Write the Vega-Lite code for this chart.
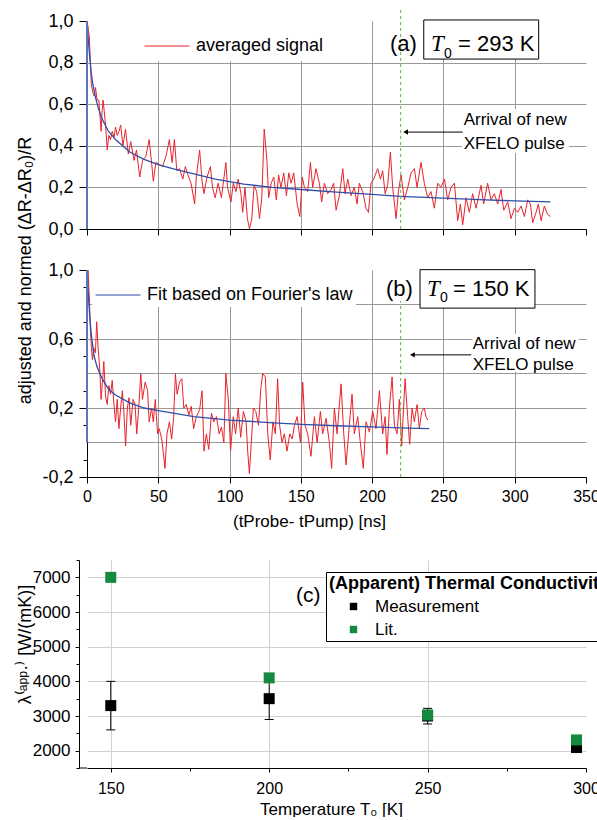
{
  "$schema": "https://vega.github.io/schema/vega-lite/v6.json",
  "padding": {"left": 15, "top": 7, "right": 0, "bottom": 0},
  "background": "white",
  "spacing": 41,
  "bounds": "flush",
  "resolve": {"scale": {"x": "independent", "y": "independent", "color": "independent"}, "axis": {"x": "independent", "y": "independent"}, "legend": {"color": "independent"}},
  "config": {
    "view": {"stroke": null},
    "font": "Liberation Sans",
    "locale": {"number": {"decimal": ",", "thousands": ".", "grouping": [3], "currency": ["", ""], "minus": "-"}},
    "axis": {"domainColor": "black", "tickColor": "black", "labelColor": "black", "titleColor": "black", "titleFontWeight": "normal", "labelFont": "Liberation Sans", "titleFont": "Liberation Sans", "labelFlush": false, "labelOverlap": false, "labelSeparation": -60, "labelBound": false, "domainWidth": 1, "tickWidth": 1, "gridColor": "#999999", "gridWidth": 1}
  },
  "datasets": {
    "sigA": [
      {"t":0,"v":0.70},{"t":0.5,"v":0.98},{"t":1,"v":0.95},{"t":1.6,"v":0.93},{"t":2.4,"v":0.80},{"t":3,"v":0.70},{"t":4,"v":0.66},{"t":5,"v":0.64},{"t":6,"v":0.68},{"t":7,"v":0.62},{"t":8.3,"v":0.62},{"t":9.9,"v":0.47},{"t":10.6,"v":0.57},{"t":11.3,"v":0.62},{"t":13,"v":0.50},{"t":14.2,"v":0.38},{"t":15.3,"v":0.45},{"t":16.5,"v":0.43},{"t":17.7,"v":0.47},{"t":19,"v":0.44},{"t":20,"v":0.49},{"t":21.2,"v":0.45},{"t":22.5,"v":0.47},{"t":23.6,"v":0.50},{"t":25.2,"v":0.40},{"t":27,"v":0.48},{"t":29,"v":0.36},{"t":30.7,"v":0.42},{"t":32,"v":0.37},{"t":33,"v":0.33},{"t":34.7,"v":0.38},{"t":37,"v":0.25},{"t":39,"v":0.33},{"t":41.3,"v":0.35},{"t":43.6,"v":0.43},{"t":45.3,"v":0.32},{"t":46.5,"v":0.23},{"t":48.3,"v":0.32},{"t":50.7,"v":0.31},{"t":53,"v":0.30},{"t":55.4,"v":0.35},{"t":57.8,"v":0.43},{"t":59.7,"v":0.32},{"t":61.3,"v":0.43},{"t":63,"v":0.28},{"t":64.9,"v":0.29},{"t":67.2,"v":0.24},{"t":69,"v":0.30},{"t":70.8,"v":0.26},{"t":73,"v":0.22},{"t":75.5,"v":0.12},{"t":76.7,"v":0.25},{"t":79,"v":0.38},{"t":80.7,"v":0.23},{"t":82,"v":0.17},{"t":84.2,"v":0.25},{"t":86.6,"v":0.30},{"t":88,"v":0.20},{"t":89.9,"v":0.15},{"t":92,"v":0.22},{"t":94.3,"v":0.15},{"t":97.4,"v":0.32},{"t":98.6,"v":0.20},{"t":101,"v":0.13},{"t":102.6,"v":0.22},{"t":104.5,"v":0.18},{"t":106,"v":0.24},{"t":108,"v":0.17},{"t":109.2,"v":0.08},{"t":110.8,"v":0.20},{"t":112.5,"v":0.05},{"t":114,"v":0.0},{"t":115.6,"v":0.05},{"t":117.2,"v":0.21},{"t":119,"v":0.18},{"t":121,"v":0.05},{"t":122.6,"v":0.15},{"t":124.3,"v":0.48},{"t":126.2,"v":0.33},{"t":127.4,"v":0.15},{"t":129.2,"v":0.22},{"t":131,"v":0.25},{"t":132.8,"v":0.14},{"t":134.4,"v":0.26},{"t":136,"v":0.20},{"t":138,"v":0.27},{"t":139.9,"v":0.16},{"t":141.5,"v":0.27},{"t":143.2,"v":0.22},{"t":145,"v":0.27},{"t":147.4,"v":0.12},{"t":149.3,"v":0.06},{"t":151,"v":0.25},{"t":152.5,"v":0.20},{"t":154.8,"v":0.18},{"t":156.7,"v":0.32},{"t":158.3,"v":0.20},{"t":160.6,"v":0.29},{"t":163,"v":0.22},{"t":164.6,"v":0.13},{"t":166.5,"v":0.22},{"t":168.8,"v":0.17},{"t":171.2,"v":0.19},{"t":173,"v":0.22},{"t":174.7,"v":0.09},{"t":177,"v":0.16},{"t":179.4,"v":0.29},{"t":181,"v":0.17},{"t":182.9,"v":0.24},{"t":185.2,"v":0.16},{"t":187.5,"v":0.20},{"t":189.4,"v":0.12},{"t":191,"v":0.22},{"t":193.4,"v":0.18},{"t":195.7,"v":0.10},{"t":197.4,"v":0.08},{"t":199.2,"v":0.22},{"t":201.1,"v":0.24},{"t":203.9,"v":0.29},{"t":205.8,"v":0.24},{"t":207.4,"v":0.28},{"t":209.1,"v":0.17},{"t":210.9,"v":0.21},{"t":212.8,"v":0.37},{"t":214.4,"v":0.20},{"t":216.8,"v":0.05},{"t":218.4,"v":0.18},{"t":220.3,"v":0.26},{"t":222.6,"v":0.14},{"t":225,"v":0.20},{"t":227.3,"v":0.27},{"t":229.6,"v":0.29},{"t":231.5,"v":0.20},{"t":234.3,"v":0.32},{"t":236.6,"v":0.22},{"t":239,"v":0.15},{"t":241.3,"v":0.18},{"t":243.6,"v":0.10},{"t":246,"v":0.22},{"t":248.3,"v":0.20},{"t":250.7,"v":0.24},{"t":253,"v":0.14},{"t":255.3,"v":0.20},{"t":257.7,"v":0.22},{"t":260,"v":0.04},{"t":261.9,"v":0.12},{"t":263.5,"v":0.02},{"t":265.9,"v":0.15},{"t":268.2,"v":0.08},{"t":270.5,"v":0.17},{"t":272.9,"v":0.10},{"t":276.4,"v":0.21},{"t":278.2,"v":0.12},{"t":281,"v":0.22},{"t":283.4,"v":0.14},{"t":285.7,"v":0.17},{"t":288.1,"v":0.12},{"t":290.4,"v":0.19},{"t":292.3,"v":0.09},{"t":295.1,"v":0.13},{"t":297.4,"v":0.05},{"t":299.8,"v":0.10},{"t":302.1,"v":0.08},{"t":304.5,"v":0.11},{"t":306.8,"v":0.06},{"t":309.1,"v":0.14},{"t":311,"v":0.12},{"t":312.6,"v":0.03},{"t":315,"v":0.08},{"t":316.6,"v":0.12},{"t":318.5,"v":0.04},{"t":320.8,"v":0.11},{"t":323.1,"v":0.07},{"t":325,"v":0.06}
    ],
    "fitA": [
      {"t":0.05,"v":1.0},{"t":1,"v":0.9},{"t":2,"v":0.82},{"t":3,"v":0.75},{"t":4,"v":0.70},{"t":6,"v":0.63},{"t":8,"v":0.58},{"t":10,"v":0.54},{"t":12,"v":0.51},{"t":15,"v":0.47},{"t":20,"v":0.43},{"t":25,"v":0.40},{"t":30,"v":0.37},{"t":40,"v":0.335},{"t":50,"v":0.31},{"t":60,"v":0.29},{"t":75,"v":0.265},{"t":90,"v":0.24},{"t":110,"v":0.216},{"t":130,"v":0.2},{"t":150,"v":0.19},{"t":175,"v":0.177},{"t":200,"v":0.166},{"t":220,"v":0.157},{"t":250,"v":0.148},{"t":275,"v":0.141},{"t":300,"v":0.135},{"t":325,"v":0.13}
    ],
    "sigB": [
      {"t":0,"v":0.85},{"t":0.7,"v":1.0},{"t":1.6,"v":0.85},{"t":2.4,"v":0.65},{"t":3.1,"v":0.55},{"t":3.8,"v":0.48},{"t":4.7,"v":0.55},{"t":5.9,"v":0.52},{"t":6.8,"v":0.70},{"t":7.8,"v":0.55},{"t":9,"v":0.42},{"t":9.9,"v":0.25},{"t":11.1,"v":0.38},{"t":11.8,"v":0.47},{"t":13,"v":0.27},{"t":14.2,"v":0.22},{"t":15.3,"v":0.33},{"t":16.5,"v":0.28},{"t":17.7,"v":0.36},{"t":18.9,"v":0.22},{"t":20,"v":0.12},{"t":21.2,"v":0.25},{"t":22.4,"v":0.08},{"t":23.6,"v":0.20},{"t":24.8,"v":0.30},{"t":25.9,"v":0.17},{"t":27.1,"v":-0.02},{"t":28.3,"v":0.20},{"t":29.5,"v":0.26},{"t":30.7,"v":0.10},{"t":32.3,"v":0.25},{"t":33.7,"v":0.22},{"t":34.9,"v":0.05},{"t":36.6,"v":0.24},{"t":37.7,"v":0.40},{"t":38.9,"v":0.25},{"t":40.8,"v":0.35},{"t":42.5,"v":0.30},{"t":43.6,"v":0.12},{"t":45.3,"v":0.20},{"t":46.5,"v":0.12},{"t":47.9,"v":0.25},{"t":49.5,"v":0.05},{"t":50.7,"v":0.08},{"t":52.6,"v":0.01},{"t":54.7,"v":-0.15},{"t":56.1,"v":0.05},{"t":57.8,"v":0.12},{"t":59.4,"v":0.02},{"t":60.8,"v":0.15},{"t":62,"v":0.40},{"t":63.2,"v":0.28},{"t":64.9,"v":0.35},{"t":66.5,"v":0.37},{"t":67.9,"v":0.20},{"t":69.6,"v":0.22},{"t":71.5,"v":0.16},{"t":73.1,"v":0.21},{"t":74.8,"v":0.08},{"t":76.7,"v":0.15},{"t":79,"v":0.19},{"t":80.7,"v":0.30},{"t":82.1,"v":-0.05},{"t":83.7,"v":0.05},{"t":85.4,"v":-0.04},{"t":87.3,"v":0.17},{"t":88.9,"v":0.12},{"t":90.8,"v":0.15},{"t":92.7,"v":0.05},{"t":94.3,"v":0.09},{"t":96,"v":0.0},{"t":97.4,"v":0.40},{"t":99.1,"v":0.25},{"t":100.7,"v":-0.05},{"t":102.6,"v":0.15},{"t":104.2,"v":0.05},{"t":106.1,"v":0.20},{"t":107.8,"v":0.03},{"t":109.7,"v":0.18},{"t":111.6,"v":0.12},{"t":112.7,"v":-0.05},{"t":113.9,"v":-0.18},{"t":115.6,"v":0.05},{"t":116.7,"v":0.20},{"t":118.4,"v":0.18},{"t":120.3,"v":0.10},{"t":122,"v":0.32},{"t":123.3,"v":0.40},{"t":125.1,"v":0.38},{"t":126.8,"v":0.05},{"t":128.5,"v":-0.10},{"t":130.4,"v":0.12},{"t":132.1,"v":0.05},{"t":133.7,"v":0.37},{"t":135.1,"v":0.10},{"t":136.8,"v":0.0},{"t":138.4,"v":0.05},{"t":140.3,"v":-0.05},{"t":142.2,"v":0.05},{"t":143.9,"v":0.02},{"t":145.5,"v":0.10},{"t":147.4,"v":0.15},{"t":149.7,"v":0.0},{"t":151.3,"v":0.35},{"t":152.9,"v":0.10},{"t":154.8,"v":0.05},{"t":157.1,"v":-0.08},{"t":159.5,"v":0.15},{"t":161.4,"v":0.0},{"t":163.7,"v":0.18},{"t":165.3,"v":0.05},{"t":167.7,"v":0.14},{"t":170,"v":0.0},{"t":171.6,"v":-0.15},{"t":173.5,"v":0.20},{"t":175.4,"v":0.05},{"t":178.2,"v":0.34},{"t":180.1,"v":0.05},{"t":181.7,"v":-0.13},{"t":184,"v":0.10},{"t":185.9,"v":0.28},{"t":187.5,"v":0.05},{"t":189.9,"v":0.15},{"t":191.7,"v":0.0},{"t":193.8,"v":-0.15},{"t":195.7,"v":0.12},{"t":198.1,"v":0.06},{"t":200.4,"v":0.18},{"t":202.7,"v":0.08},{"t":205.1,"v":0.30},{"t":207.4,"v":0.05},{"t":209.1,"v":0.15},{"t":210.4,"v":-0.07},{"t":212.1,"v":0.20},{"t":214,"v":0.38},{"t":215.6,"v":0.10},{"t":217.5,"v":0.05},{"t":219.1,"v":0.25},{"t":220.7,"v":-0.02},{"t":223.1,"v":0.37},{"t":224.9,"v":0.15},{"t":226.3,"v":-0.01},{"t":228,"v":0.20},{"t":229.6,"v":0.12},{"t":231.5,"v":0.22},{"t":233.1,"v":0.08},{"t":234.8,"v":0.18},{"t":236.6,"v":0.20},{"t":237.8,"v":0.15},{"t":239,"v":0.13}
    ],
    "fitB": [
      {"t":0.05,"v":1.0},{"t":1,"v":0.85},{"t":2,"v":0.72},{"t":3,"v":0.63},{"t":4,"v":0.56},{"t":5,"v":0.50},{"t":7,"v":0.44},{"t":10,"v":0.38},{"t":15,"v":0.31},{"t":20,"v":0.275},{"t":30,"v":0.23},{"t":40,"v":0.2},{"t":50,"v":0.185},{"t":75,"v":0.15},{"t":100,"v":0.13},{"t":125,"v":0.117},{"t":150,"v":0.105},{"t":175,"v":0.097},{"t":200,"v":0.09},{"t":225,"v":0.083},{"t":240,"v":0.08}
    ],
    "meas": [
      {"T":150,"v":3300,"lo":2600,"hi":4000},{"T":200,"v":3500,"lo":2900,"hi":4100},{"T":250,"v":3000,"lo":2770,"hi":3220},{"T":297,"v":2090,"lo":1990,"hi":2220}
    ],
    "lit": [
      {"T":150,"v":7000},{"T":200,"v":4100},{"T":250,"v":3030},{"T":297,"v":2310}
    ]
  },
  "vconcat": [
    {
      "width": 499,
      "height": 208,
      "layer": [
        {"data": {"name": "sigA"}, "mark": {"type": "line", "strokeWidth": 1, "clip": true},
         "encoding": {
           "x": {"field": "t", "type": "quantitative", "scale": {"domain": [0, 350], "nice": false, "zero": false},
                 "axis": {"title": null, "values": [0,25,50,75,100,125,150,175,200,225,250,275,300,325,350], "labels": false,
                          "tickSize": {"condition": {"test": "datum.value % 50 != 0", "value": 3}, "value": 6},
                          "gridOpacity": {"condition": {"test": "datum.value % 50 != 0 || datum.value == 0 || datum.value == 350", "value": 0}, "value": 1}}},
           "y": {"field": "v", "type": "quantitative", "scale": {"domain": [0, 1], "nice": false, "zero": false},
                 "axis": {"title": null, "values": [0,0.1,0.2,0.3,0.4,0.5,0.6,0.7,0.8,0.9,1.0], "labelPadding": 6, "labelOverlap": false,
                          "labelFontSize": {"condition": {"test": "abs(round(datum.value*10)) % 2 == 1", "value": 1}, "value": 18},
                          "labelExpr": "abs(round(datum.value*10)) % 2 == 1 ? '' : replace(format(datum.value, '.1f'), '.', ',')",
                          "tickSize": {"condition": {"test": "abs(round(datum.value*10)) % 2 == 1", "value": 4}, "value": 8},
                          "gridOpacity": {"condition": {"test": "abs(round(datum.value*10)) % 2 == 1 || datum.value < 0.05 || datum.value > 0.95", "value": 0}, "value": 1}}},
           "color": {"datum": "averaged signal", "type": "nominal", "scale": {"range": ["#e8232b"]},
                     "legend": {"orient": "none", "legendX": 51, "legendY": -4, "title": null, "symbolType": "stroke", "symbolSize": 2025, "symbolStrokeWidth": 1, "labelFont": "Liberation Sans", "labelFontSize": 18, "labelColor": "black", "labelOffset": 6, "fillColor": "white", "padding": 6, "labelLimit": 0}}
         }},
        {"data": {"values": [{}]}, "mark": {"type": "rect", "fill": "white"},
         "encoding": {"x": {"datum": 263, "type": "quantitative"}, "x2": {"datum": 338}, "y": {"datum": 0.365, "type": "quantitative"}, "y2": {"datum": 0.577}}},
        {"data": {"name": "fitA"}, "mark": {"type": "line", "color": "#2f4fa8", "strokeWidth": 1.3},
         "encoding": {"x": {"field": "t", "type": "quantitative"}, "y": {"field": "v", "type": "quantitative"}}},
        {"data": {"values": [{}]}, "mark": {"type": "rule", "color": "#5a76bf", "strokeWidth": 2},
         "encoding": {"x": {"datum": 0, "type": "quantitative"}, "y": {"datum": 0, "type": "quantitative"}, "y2": {"datum": 1}}},
        {"data": {"values": [{}]}, "mark": {"type": "rule", "color": "#5cb83c", "strokeDash": [3, 3], "strokeWidth": 1, "clip": false},
         "encoding": {"x": {"datum": 220, "type": "quantitative"}, "y": {"datum": 0, "type": "quantitative"}, "y2": {"datum": 1.0625}}},
        {"data": {"values": [{}]}, "mark": {"type": "rule", "color": "black", "strokeWidth": 1},
         "encoding": {"x": {"datum": 223, "type": "quantitative"}, "x2": {"datum": 263.5}, "y": {"datum": 0.466, "type": "quantitative"}}},
        {"data": {"values": [{}]}, "mark": {"type": "point", "shape": "triangle-left", "filled": true, "color": "black", "size": 30, "opacity": 1},
         "encoding": {"x": {"datum": 223.5, "type": "quantitative"}, "y": {"datum": 0.466, "type": "quantitative"}}},
        {"data": {"values": [{}]}, "mark": {"type": "rect", "fill": "white", "stroke": "black", "strokeWidth": 1, "clip": false},
         "encoding": {"x": {"datum": 236.2, "type": "quantitative"}, "x2": {"datum": 316.8}, "y": {"datum": 0.817, "type": "quantitative"}, "y2": {"datum": 1.005}}},
        {"data": {"values": [{}]}, "mark": {"type": "text", "text": "(a)", "font": "Liberation Sans", "fontSize": 22, "align": "left", "baseline": "alphabetic", "color": "black"},
         "encoding": {"x": {"datum": 212.5, "type": "quantitative"}, "y": {"datum": 0.856, "type": "quantitative"}}},
        {"data": {"values": [{}]}, "mark": {"type": "text", "text": "T", "font": "Liberation Serif", "fontStyle": "italic", "fontSize": 23, "align": "left", "baseline": "alphabetic", "color": "black"},
         "encoding": {"x": {"datum": 241.3, "type": "quantitative"}, "y": {"datum": 0.856, "type": "quantitative"}}},
        {"data": {"values": [{}]}, "mark": {"type": "text", "text": "0", "font": "Liberation Sans", "fontSize": 14, "align": "left", "baseline": "alphabetic", "color": "black"},
         "encoding": {"x": {"datum": 250.4, "type": "quantitative"}, "y": {"datum": 0.822, "type": "quantitative"}}},
        {"data": {"values": [{}]}, "mark": {"type": "text", "text": "= 293 K", "font": "Liberation Sans", "fontSize": 22, "align": "left", "baseline": "alphabetic", "color": "black"},
         "encoding": {"x": {"datum": 260.2, "type": "quantitative"}, "y": {"datum": 0.856, "type": "quantitative"}}},
        {"data": {"values": [{}]}, "mark": {"type": "text", "text": "Arrival of new", "font": "Liberation Sans", "fontSize": 17, "align": "left", "baseline": "alphabetic", "color": "black"},
         "encoding": {"x": {"datum": 264.2, "type": "quantitative"}, "y": {"datum": 0.5, "type": "quantitative"}}},
        {"data": {"values": [{}]}, "mark": {"type": "text", "text": "XFELO pulse", "font": "Liberation Sans", "fontSize": 17, "align": "left", "baseline": "alphabetic", "color": "black"},
         "encoding": {"x": {"datum": 264.2, "type": "quantitative"}, "y": {"datum": 0.385, "type": "quantitative"}}}
      ]
    },
    {
      "width": 499,
      "height": 207,
      "resolve": {"axis": {"y": "independent"}},
      "layer": [
        {
          "layer": [
            {"data": {"name": "sigB"}, "mark": {"type": "line", "strokeWidth": 1, "color": "#e8232b", "clip": true},
             "encoding": {
               "x": {"field": "t", "type": "quantitative", "scale": {"domain": [0, 350], "nice": false, "zero": false},
                     "axis": {"title": "(tProbe- tPump) [ns]", "titleFontSize": 17, "titleX": 222, "titleY": 49, "titleAlign": "center", "titleBaseline": "alphabetic",
                              "values": [0,25,50,75,100,125,150,175,200,225,250,275,300,325,350], "labelPadding": 5, "labelOverlap": false,
                              "labelFontSize": {"condition": {"test": "datum.value % 50 != 0", "value": 1}, "value": 16},
                              "labelExpr": "datum.value % 50 == 0 ? datum.label : ''",
                              "tickSize": {"condition": {"test": "datum.value % 50 != 0", "value": 3}, "value": 6},
                              "gridOpacity": {"condition": {"test": "datum.value % 50 != 0 || datum.value == 0 || datum.value == 350", "value": 0}, "value": 1}}},
               "y": {"field": "v", "type": "quantitative", "scale": {"domain": [-0.2, 1], "nice": false, "zero": false},
                     "axis": {"title": null, "grid": false,
                              "values": [-0.2,0,0.2,0.4,0.6,0.8,1.0], "labelPadding": 6, "labelOverlap": false, "labelSeparation": -60, "labelFontSize": 18, "tickSize": 8,
                              "format": ".1f"}}
             }},
            {"data": {"values": [{}]}, "mark": {"type": "rect", "fill": "white"},
             "encoding": {"x": {"datum": 270.3, "type": "quantitative"}, "x2": {"datum": 345}, "y": {"datum": 0.41, "type": "quantitative"}, "y2": {"datum": 0.63}}},
            {"data": {"name": "fitB"}, "mark": {"type": "line", "strokeWidth": 1.3},
             "encoding": {"x": {"field": "t", "type": "quantitative"}, "y": {"field": "v", "type": "quantitative"},
               "color": {"datum": "Fit based on Fourier's law", "type": "nominal", "scale": {"range": ["#2f4fa8"]},
                         "legend": {"orient": "none", "legendX": 5, "legendY": -1, "title": null, "symbolType": "stroke", "symbolSize": 2025, "symbolStrokeWidth": 1, "labelFont": "Liberation Sans", "labelFontSize": 18, "labelColor": "black", "labelOffset": 6, "fillColor": "white", "padding": 3, "labelLimit": 0}}}},
            {"data": {"values": [{}]}, "mark": {"type": "rule", "color": "#5a76bf", "strokeWidth": 2},
             "encoding": {"x": {"datum": 0, "type": "quantitative"}, "y": {"datum": 0, "type": "quantitative"}, "y2": {"datum": 1}}},
            {"data": {"values": [{}]}, "mark": {"type": "rule", "color": "#5cb83c", "strokeDash": [3, 3], "strokeWidth": 1},
             "encoding": {"x": {"datum": 220, "type": "quantitative"}, "y": {"datum": -0.2, "type": "quantitative"}, "y2": {"datum": 0.82}}},
            {"data": {"values": [{}]}, "mark": {"type": "rule", "color": "black", "strokeWidth": 1},
             "encoding": {"x": {"datum": 228, "type": "quantitative"}, "x2": {"datum": 269.5}, "y": {"datum": 0.508, "type": "quantitative"}}},
            {"data": {"values": [{}]}, "mark": {"type": "point", "shape": "triangle-left", "filled": true, "color": "black", "size": 30, "opacity": 1},
             "encoding": {"x": {"datum": 228.2, "type": "quantitative"}, "y": {"datum": 0.508, "type": "quantitative"}}},
            {"data": {"values": [{}]}, "mark": {"type": "rect", "fill": "white", "stroke": "black", "strokeWidth": 1, "clip": false},
             "encoding": {"x": {"datum": 233.6, "type": "quantitative"}, "x2": {"datum": 314.2}, "y": {"datum": 0.779, "type": "quantitative"}, "y2": {"datum": 1.002}}},
            {"data": {"values": [{}]}, "mark": {"type": "text", "text": "(b)", "font": "Liberation Sans", "fontSize": 22, "align": "left", "baseline": "alphabetic", "color": "black"},
             "encoding": {"x": {"datum": 209.7, "type": "quantitative"}, "y": {"datum": 0.851, "type": "quantitative"}}},
            {"data": {"values": [{}]}, "mark": {"type": "text", "text": "T", "font": "Liberation Serif", "fontStyle": "italic", "fontSize": 23, "align": "left", "baseline": "alphabetic", "color": "black"},
             "encoding": {"x": {"datum": 238.5, "type": "quantitative"}, "y": {"datum": 0.851, "type": "quantitative"}}},
            {"data": {"values": [{}]}, "mark": {"type": "text", "text": "0", "font": "Liberation Sans", "fontSize": 14, "align": "left", "baseline": "alphabetic", "color": "black"},
             "encoding": {"x": {"datum": 247.6, "type": "quantitative"}, "y": {"datum": 0.816, "type": "quantitative"}}},
            {"data": {"values": [{}]}, "mark": {"type": "text", "text": "= 150 K", "font": "Liberation Sans", "fontSize": 22, "align": "left", "baseline": "alphabetic", "color": "black"},
             "encoding": {"x": {"datum": 256.7, "type": "quantitative"}, "y": {"datum": 0.851, "type": "quantitative"}}},
            {"data": {"values": [{}]}, "mark": {"type": "text", "text": "Arrival of new", "font": "Liberation Sans", "fontSize": 17, "align": "left", "baseline": "alphabetic", "color": "black"},
             "encoding": {"x": {"datum": 270.5, "type": "quantitative"}, "y": {"datum": 0.543, "type": "quantitative"}}},
            {"data": {"values": [{}]}, "mark": {"type": "text", "text": "XFELO pulse", "font": "Liberation Sans", "fontSize": 17, "align": "left", "baseline": "alphabetic", "color": "black"},
             "encoding": {"x": {"datum": 270.5, "type": "quantitative"}, "y": {"datum": 0.421, "type": "quantitative"}}}
          ]
        },
        {"data": {"values": []}, "mark": {"type": "rule"},
         "encoding": {"y": {"field": "v", "type": "quantitative",
           "axis": {"orient": "left", "values": [-0.1,0.1,0.3,0.5,0.7,0.9], "labels": false, "grid": false, "domain": false, "tickSize": 4,
                    "title": "adjusted and normed (ΔR-ΔR₀)/R", "titleFontSize": 18, "titleX": -57, "titleY": 0, "titleAngle": -90, "titleAlign": "center", "titleBaseline": "alphabetic"}}}},
        {"data": {"values": []}, "mark": {"type": "rule"},
         "encoding": {"y": {"field": "v", "type": "quantitative",
           "axis": {"orient": "left", "values": [0,0.2,0.4,0.6,0.8], "labels": false, "ticks": false, "domain": false, "grid": true, "gridColor": "#999999", "title": null}}}}
      ]
    },
    {
      "width": 499,
      "height": 1,
      "data": {"values": []},
      "mark": {"type": "rule", "opacity": 0},
      "encoding": {}
    },
    {
      "width": 499,
      "height": 208,
      "resolve": {"axis": {"y": "independent"}},
      "layer": [
        {
          "layer": [
            {"data": {"name": "meas"}, "mark": {"type": "rule", "color": "black", "strokeWidth": 1},
             "encoding": {
               "x": {"field": "T", "type": "quantitative", "scale": {"domain": [142.5, 300], "nice": false, "zero": false},
                     "axis": {"title": "Temperature T₀ [K]", "titleFontSize": 17, "titleX": 244, "titleY": 46, "titleAlign": "center", "titleBaseline": "alphabetic",
                              "values": [150,175,200,225,250,275,300], "labelPadding": 8, "labelOverlap": false,
                              "labelFontSize": {"condition": {"test": "datum.value % 50 != 0", "value": 1}, "value": 16},
                              "labelExpr": "datum.value % 50 == 0 ? datum.label : ''",
                              "tickSize": {"condition": {"test": "datum.value % 50 != 0", "value": 3}, "value": 4},
                              "gridColor": "#d0d0d0",
                              "gridOpacity": {"condition": {"test": "datum.value % 50 != 0 || datum.value == 300", "value": 0}, "value": 1}}},
               "y": {"field": "lo", "type": "quantitative", "scale": {"domain": [1500, 7500], "nice": false, "zero": false},
                     "axis": {"title": "λ⁽ᵃᵖᵖ·⁾ [W/(mK)]", "titleFontSize": 18, "titleX": -49, "titleY": 84, "titleAngle": -90, "titleAlign": "center", "titleBaseline": "alphabetic",
                              "offset": 8, "values": [2000,3000,4000,5000,6000,7000], "labelPadding": 5, "labelOverlap": false, "labelFontSize": 17,
                              "format": "d", "tickSize": 4, "gridColor": "#d0d0d0"}},
               "y2": {"field": "hi"}
             }},
            {"data": {"values": [{}]}, "mark": {"type": "rule", "color": "black", "strokeWidth": 1, "clip": false},
             "encoding": {"x": {"datum": 140, "type": "quantitative"}, "x2": {"datum": 142.5}, "y": {"datum": 1500, "type": "quantitative"}}},
            {"data": {"name": "meas"}, "mark": {"type": "tick", "orient": "horizontal", "size": 9, "thickness": 1, "color": "black", "opacity": 1},
             "encoding": {"x": {"field": "T", "type": "quantitative"}, "y": {"field": "hi", "type": "quantitative"}}},
            {"data": {"name": "meas"}, "mark": {"type": "tick", "orient": "horizontal", "size": 9, "thickness": 1, "color": "black", "opacity": 1},
             "encoding": {"x": {"field": "T", "type": "quantitative"}, "y": {"field": "lo", "type": "quantitative"}}},
            {"data": {"name": "meas"}, "mark": {"type": "point", "shape": "square", "filled": true, "size": 121, "opacity": 1},
             "encoding": {"x": {"field": "T", "type": "quantitative"}, "y": {"field": "v", "type": "quantitative"},
               "color": {"datum": "Measurement", "type": "nominal", "scale": {"domain": ["Measurement", "Lit."], "range": ["#000000", "#138a3e"]},
                         "legend": {"orient": "none", "legendX": 239, "legendY": 12, "title": "(Apparent) Thermal Conductivity", "titleFont": "Liberation Sans", "titleFontSize": 18, "titleFontWeight": "bold", "titleColor": "black", "titleLimit": 0, "titlePadding": 5,
                                    "labelFont": "Liberation Sans", "labelFontSize": 17, "labelColor": "black", "labelLimit": 0, "symbolType": "square", "symbolSize": 55, "symbolOffset": 16, "labelOffset": 13,
                                    "strokeColor": "black", "fillColor": "white", "padding": 3, "rowPadding": 5, "symbolStrokeWidth": 0}}}},
            {"data": {"name": "lit"}, "mark": {"type": "point", "shape": "square", "filled": true, "size": 121, "opacity": 1},
             "encoding": {"x": {"field": "T", "type": "quantitative"}, "y": {"field": "v", "type": "quantitative"},
               "color": {"datum": "Lit.", "type": "nominal"}}},
            {"data": {"values": [{}]}, "mark": {"type": "text", "text": "(c)", "font": "Liberation Sans", "fontSize": 21, "align": "left", "baseline": "alphabetic", "color": "black"},
             "encoding": {"x": {"datum": 208.5, "type": "quantitative"}, "y": {"datum": 6290, "type": "quantitative"}}}
          ]
        },
        {"data": {"values": []}, "mark": {"type": "rule"},
         "encoding": {"y": {"field": "v", "type": "quantitative",
           "axis": {"orient": "left", "offset": 8, "title": null, "values": [1500,2500,3500,4500,5500,6500,7500], "labels": false, "grid": false, "domain": false, "tickSize": 3}}}}
      ]
    }
  ]
}
